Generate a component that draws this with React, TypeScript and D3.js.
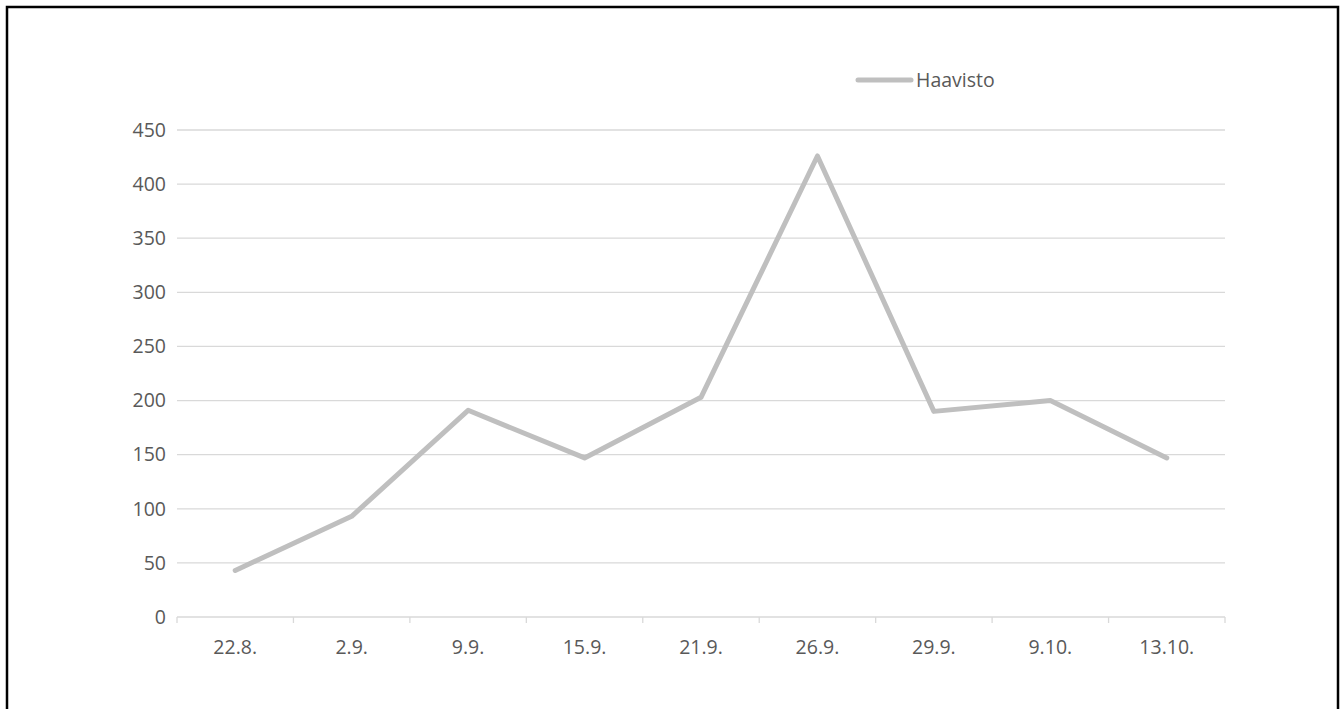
import React from "react";
import * as d3 from "d3";

const categories = ["22.8.", "2.9.", "9.9.", "15.9.", "21.9.", "26.9.", "29.9.", "9.10.", "13.10."];
const haavisto = [43, 93, 191, 147, 203, 426, 190, 200, 147];
const yTicks = [0, 50, 100, 150, 200, 250, 300, 350, 400, 450];
const seriesName = "Haavisto";

const W = 1343;
const H = 709;
const left = 177;
const right = 1225;
const top = 130;
const bottom = 617;
const font = "'Open Sans', 'Liberation Sans', sans-serif";
const fontSize = 19.5;
const textColor = "#595959";
const lineColor = "#BFBFBF";

export default function App() {
  const x = d3.scaleBand<string>().domain(categories).range([left, right]);
  const y = d3.scaleLinear().domain([0, 450]).range([bottom, top]);
  const line = d3
    .line<number>()
    .x((_, i) => (x(categories[i]) as number) + x.bandwidth() / 2)
    .y((d) => y(d));
  const boundaries = [...categories.map((c) => x(c) as number), right];

  return (
    <svg
      width={W}
      height={H}
      style={{ position: "fixed", left: 0, top: 0, background: "#fff" }}
    >
      <rect x={7} y={7} width={1331} height={720} fill="#fff" stroke="#000" strokeWidth={2.5} />
      {yTicks.map((t) => (
        <g key={t}>
          {t > 0 && (
            <line x1={left} x2={right} y1={y(t)} y2={y(t)} stroke="#D9D9D9" strokeWidth={1.3} />
          )}
          <text
            x={166}
            y={y(t)}
            dy="0.35em"
            textAnchor="end"
            fontFamily={font}
            fontSize={fontSize}
            fill={textColor}
          >
            {t}
          </text>
        </g>
      ))}
      <line x1={left} x2={right} y1={bottom} y2={bottom} stroke="#D9D9D9" strokeWidth={1.3} />
      {boundaries.map((b, i) => (
        <line key={i} x1={b} x2={b} y1={bottom} y2={bottom + 6} stroke="#D9D9D9" strokeWidth={1.3} />
      ))}
      {categories.map((c) => (
        <text
          key={c}
          x={(x(c) as number) + x.bandwidth() / 2}
          y={647}
          dy="0.35em"
          textAnchor="middle"
          fontFamily={font}
          fontSize={fontSize}
          fill={textColor}
        >
          {c}
        </text>
      ))}
      <path
        d={line(haavisto) || ""}
        fill="none"
        stroke={lineColor}
        strokeWidth={5}
        strokeLinejoin="round"
        strokeLinecap="round"
      />
      <line x1={858} x2={911} y1={80} y2={80} stroke={lineColor} strokeWidth={5} strokeLinecap="round" />
      <text x={916} y={80} dy="0.35em" fontFamily={font} fontSize={fontSize} fill={textColor}>
        {seriesName}
      </text>
    </svg>
  );
}
